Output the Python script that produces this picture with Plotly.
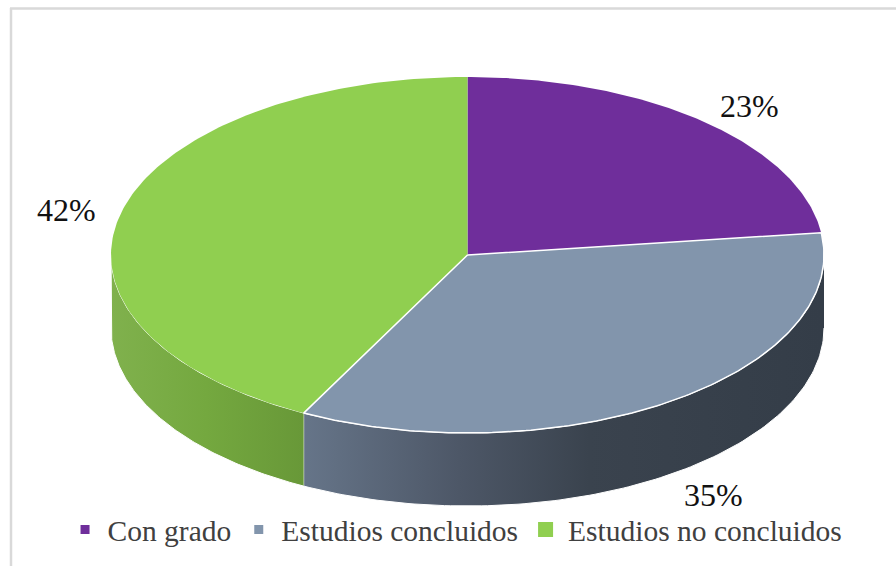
import numpy as np
import plotly.graph_objects as go

categories = ["Con grado", "Estudios concluidos", "Estudios no concluidos"]
values = [23.0, 34.6, 42.4]
top_colors = ["#6F2E9B", "#8295AC", "#90CF50"]
top_outline = [0, 1.5, 0]
legend_sizes = [9, 9, 15]
side_scales = [
    None,
    [[0, "#667589"], [0.3, "#4d5767"], [0.55, "#3a434e"], [1, "#343d48"]],
    [[0, "#80B14D"], [0.5, "#74A83F"], [1, "#689838"]],
]
side_spans = [None, (303, 823), (111, 303)]
label_pos = [(749, 106), (713, 495), (66, 210)]

W, H = 896, 566
CX, CY, RX, RY, DEPTH = 467.5, 255, 356.5, 178, 73
SERIF = "Liberation Serif"


def ex(t):
    return CX + RX * np.sin(np.radians(t))


def ey(t, drop=0):
    return CY - RY * np.cos(np.radians(t)) + drop


fig = go.Figure()
edges = np.concatenate([[0], np.cumsum(values)]) / sum(values) * 360

# sides of the visible front half
for i in range(len(values)):
    a, b = max(edges[i], 90), min(edges[i + 1], 270)
    if b <= a or side_scales[i] is None:
        continue
    t = np.linspace(a, b, 120)
    fig.add_trace(go.Scatter(
        x=np.concatenate([ex(t), ex(t[::-1])]),
        y=np.concatenate([ey(t), ey(t[::-1], DEPTH)]),
        mode="lines", fill="toself",
        fillgradient=dict(type="horizontal", colorscale=side_scales[i],
                          start=side_spans[i][0], stop=side_spans[i][1]),
        line=dict(color="white", width=1),
        showlegend=False, hoverinfo="skip",
    ))

# top faces: the outlined slice is drawn last so its white edge stays whole
for i in sorted(range(len(values)), key=lambda k: top_outline[k]):
    t = np.linspace(edges[i], edges[i + 1], 160)
    fig.add_trace(go.Scatter(
        x=np.concatenate([[CX], ex(t), [CX]]),
        y=np.concatenate([[CY], ey(t), [CY]]),
        mode="lines", fill="toself", fillcolor=top_colors[i],
        line=dict(color="white", width=top_outline[i]),
        showlegend=False, name=categories[i], hoverinfo="name",
    ))

# legend entries
for i, name in enumerate(categories):
    fig.add_trace(go.Scatter(
        x=[None], y=[None], mode="markers", name=name,
        marker=dict(symbol="square", size=legend_sizes[i], color=top_colors[i]),
    ))

for v, (lx, ly) in zip(values, label_pos):
    fig.add_annotation(x=lx, y=ly, text=f"{round(v)}%", showarrow=False,
                       font=dict(family=SERIF, size=32, color="#111111"))

fig.update_layout(
    width=W, height=H, autosize=False,
    margin=dict(l=0, r=0, t=0, b=0),
    paper_bgcolor="white", plot_bgcolor="white",
    xaxis=dict(range=[0, W], visible=False),
    yaxis=dict(range=[H, 0], visible=False),
    legend=dict(orientation="h", x=0.0698, y=0.018, xanchor="left", yanchor="bottom",
                font=dict(family=SERIF, size=29.5, color="#404040"),
                bgcolor="rgba(0,0,0,0)", itemwidth=35),
    shapes=[
        dict(type="line", xref="x", yref="y", x0=11, x1=11, y0=8, y1=H,
             line=dict(color="#D9D9D9", width=2.5)),
        dict(type="line", xref="x", yref="y", x0=10, x1=W, y0=8.5, y1=8.5,
             line=dict(color="#D9D9D9", width=2.5)),
    ],
)
fig.write_html(
    "out.html",
    config={"displayModeBar": False},
    post_script="document.body.style.margin='0';document.body.style.overflow='hidden';",
)
